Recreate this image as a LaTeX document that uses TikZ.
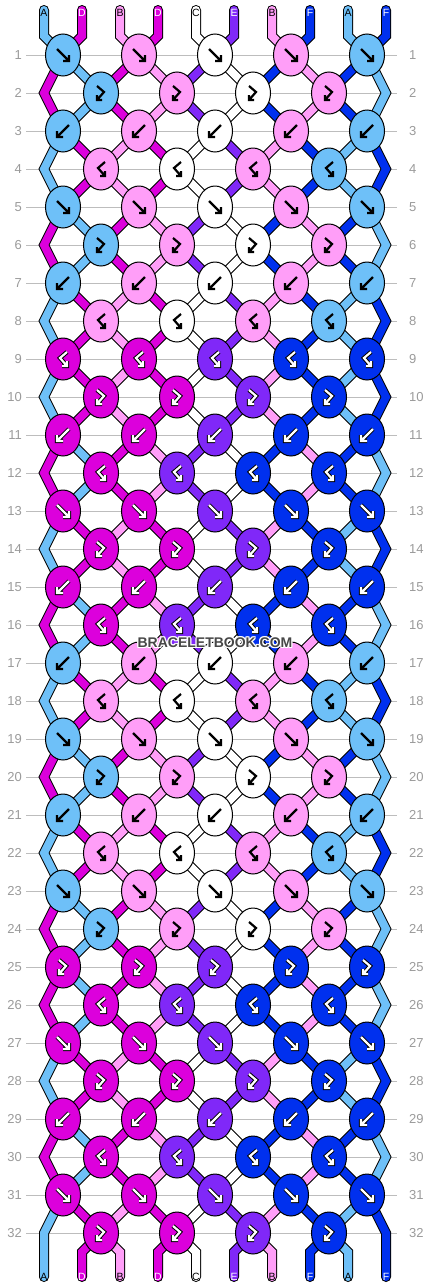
\documentclass[tikz,border=0pt]{standalone}
\usepackage{fontspec}
\setmainfont{Liberation Sans}
\usetikzlibrary{shapes.geometric}

\definecolor{strA}{HTML}{6EC0F8}
\definecolor{strB}{HTML}{FF9EF8}
\definecolor{strC}{HTML}{FFFFFF}
\definecolor{strD}{HTML}{DC00DC}
\definecolor{strE}{HTML}{8028F8}
\definecolor{strF}{HTML}{0030EE}
\colorlet{txA}{black}
\colorlet{txB}{black}
\colorlet{txC}{black}
\colorlet{txD}{white}
\colorlet{txE}{white}
\colorlet{txF}{white}
\definecolor{rowgray}{HTML}{BDBDBD}
\definecolor{labgray}{HTML}{9A9A9A}
\definecolor{wmgray}{HTML}{474747}

% strand order between rows
\newcommand\stX{A,D,B,D,C,E,B,F,A,F}
\newcommand\stY{D,A,D,B,E,C,F,B,F,A}

\tikzset{
  rowline/.style={draw=rowgray, line width=1pt},
  rownum/.style={text=labgray, font=\fontsize{13}{13}\selectfont, inner sep=0pt},
  strand/.style={draw=black, line width=1pt, double=str#1, double distance=8pt},
  knot/.style={ellipse, draw=black, line width=1pt, fill=str#1,
               minimum width=35pt, minimum height=42pt, inner sep=0pt},
  endlab/.style={font=\fontsize{10.5}{10.5}\selectfont, inner sep=0pt, text=tx#1},
  wmark/.style={font=\bfseries\fontsize{14}{14}\selectfont, text=wmgray, inner sep=0pt},
  gout/.style={draw=black, line width=2.2pt},
  gin/.style={draw=none},
  dark/.style={gout/.style={draw=black, line width=4.2pt},
               gin/.style={draw=white, line width=2.2pt}},
  glA/.style={}, glB/.style={}, glC/.style={},
  glD/.style={dark}, glE/.style={dark}, glF/.style={dark},
  pics/arrf/.style={code={\foreach \g in {gout,gin}
      \draw[\g] (-6,-6) -- (6,6) (6,0) -- (6,6) -- (0,6);}},
  pics/arrb/.style={code={\foreach \g in {gout,gin}
      \draw[\g] (6,-6) -- (-6,6) (-6,0) -- (-6,6) -- (0,6);}},
  pics/arrfb/.style={code={\foreach \g in {gout,gin}
      \draw[\g] (-4,-7) -- (3,-1) -- (-4,7) (-4,2) -- (-4,7) -- (1,7);}},
  pics/arrbf/.style={code={\foreach \g in {gout,gin}
      \draw[\g] (4,-7) -- (-3,-1) -- (4,7) (4,2) -- (4,7) -- (-1,7);}},
}

\begin{document}
\begin{tikzpicture}[x=1pt, y=-1pt]
\useasboundingbox (0,0) rectangle (430,1288);

% rows, knot places, edge turns
\foreach \r in {1,...,32}{
  \pgfmathsetmacro\y{55+38*(\r-1)}
  \ifodd\r\relax
    \foreach \k in {1,...,5} \coordinate (k-\r-\k) at ({63+76*(\k-1)},\y);
  \else
    \foreach \k in {1,...,4} \coordinate (k-\r-\k) at ({101+76*(\k-1)},\y);
    \coordinate (eL-\r) at (44,\y);
    \coordinate (eR-\r) at (386,\y);
  \fi
  \draw[rowline] (26,\y) -- (397,\y);
  \node[rownum, anchor=east] (nl-\r) at (22,\y) {\r};
  \node[rownum, anchor=west] (nr-\r) at (409,\y) {\r};
}
\foreach \p in {1,...,10}{
  \coordinate (s-\p) at ({44+38*(\p-1)},10);
  \coordinate (tk-\p) at ({44+38*(\p-1)},36);
  \coordinate (bk-\p) at ({44+38*(\p-1)},1252);
  \coordinate (be-\p) at ({44+38*(\p-1)},1277);
}

% strands in
\foreach \c [count=\p] in \stX {
  \pgfmathtruncatemacro\ka{(\p+1)/2}
  \draw[strand=\c, line cap=round] (s-\p) -- (tk-\p) -- (k-1-\ka);
}

% strands between rows (order after row r)
\foreach \r/\s in {1/Y,2/Y,3/X,4/X,5/Y,6/Y,7/X,8/X,9/X,10/X,11/Y,12/Y,13/X,14/X,15/Y,16/Y,
                   17/X,18/X,19/Y,20/Y,21/X,22/X,23/Y,24/Y,25/Y,26/Y,27/X,28/X,29/Y,30/Y,31/X}{
  \pgfmathtruncatemacro\rn{\r+1}
  \pgfmathtruncatemacro\rnn{\r+2}
  \ifnum\r=31 \edef\nxL{be-1}\edef\nxR{be-10}\else\edef\nxL{k-\rnn-1}\edef\nxR{k-\rnn-5}\fi
  \edef\cur{\csname st\s\endcsname}
  \foreach \c [count=\p] in \cur {
    \ifodd\r\relax
      \pgfmathtruncatemacro\ka{(\p+1)/2}
      \pgfmathtruncatemacro\kb{\p/2}
    \else
      \pgfmathtruncatemacro\ka{\p/2}
      \pgfmathtruncatemacro\kb{(\p+1)/2}
    \fi
    \ifnum\p=1\relax
      \ifodd\r\relax \draw[strand=\c, line cap=round] (k-\r-1) -- (eL-\rn) -- (\nxL); \fi
    \else\ifnum\p=10\relax
      \ifodd\r\relax \draw[strand=\c, line cap=round] (k-\r-5) -- (eR-\rn) -- (\nxR); \fi
    \else
      \draw[strand=\c] (k-\r-\ka) -- (k-\rn-\kb);
    \fi\fi
  }
}

% strands out
\foreach \c [count=\p] in \stX {
  \ifnum\p>1\relax\ifnum\p<10\relax
    \pgfmathtruncatemacro\ka{\p/2}
    \draw[strand=\c, line cap=round] (k-32-\ka) -- (bk-\p) -- (be-\p);
  \fi\fi
}

% knots
\foreach \r/\t/\cols in {1/f/{A,B,C,B,A}, 2/fb/{A,B,C,B}, 3/b/{A,B,C,B,A}, 4/bf/{B,C,B,A},
    5/f/{A,B,C,B,A}, 6/fb/{A,B,C,B}, 7/b/{A,B,C,B,A}, 8/bf/{B,C,B,A},
    9/bf/{D,D,E,F,F}, 10/fb/{D,D,E,F}, 11/b/{D,D,E,F,F}, 12/bf/{D,E,F,F},
    13/f/{D,D,E,F,F}, 14/fb/{D,D,E,F}, 15/b/{D,D,E,F,F}, 16/bf/{D,E,F,F},
    17/b/{A,B,C,B,A}, 18/bf/{B,C,B,A}, 19/f/{A,B,C,B,A}, 20/fb/{A,B,C,B},
    21/b/{A,B,C,B,A}, 22/bf/{B,C,B,A}, 23/f/{A,B,C,B,A}, 24/fb/{A,B,C,B},
    25/fb/{D,D,E,F,F}, 26/bf/{D,E,F,F}, 27/f/{D,D,E,F,F}, 28/fb/{D,D,E,F},
    29/b/{D,D,E,F,F}, 30/bf/{D,E,F,F}, 31/f/{D,D,E,F,F}, 32/fb/{D,D,E,F}}{
  \foreach \c [count=\k] in \cols {
    \node[knot=\c] (kn-\r-\k) at (k-\r-\k) {};
    \pic[gl\c] at (k-\r-\k) {arr\t};
  }
}

% strand letters
\foreach \c [count=\p] in \stX {
  \node[endlab=\c] (tl-\p) at ({44+38*(\p-1)},13) {\c};
  \node[endlab=\c] (bl-\p) at ({44+38*(\p-1)},1277) {\c};
}

% watermark
\foreach \dx/\dy [count=\i] in {-1/0,1/0,0/-1,0/1,-1/-1,1/1,-1/1,1/-1}
  \node[wmark, text=white] (wmh-\i) at ({215+\dx},{643+\dy}) {BRACELETBOOK.COM};
\node[wmark] (wm) at (215,643) {BRACELETBOOK.COM};
\end{tikzpicture}
\end{document}
